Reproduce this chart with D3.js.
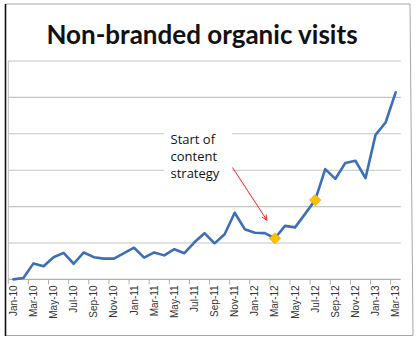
<!DOCTYPE html>
<html>
<head>
<meta charset="utf-8">
<script src="https://cdn.jsdelivr.net/npm/d3@7"></script>
<style>
  html, body { margin: 0; padding: 0; background: #fff; }
  svg { display: block; }
</style>
</head>
<body>
<svg id="chart" width="420" height="340"></svg>
<script>
// Monthly categories, Jan 2010 – Mar 2013
const months = [
  "Jan-10","Feb-10","Mar-10","Apr-10","May-10","Jun-10","Jul-10","Aug-10","Sep-10","Oct-10","Nov-10","Dec-10",
  "Jan-11","Feb-11","Mar-11","Apr-11","May-11","Jun-11","Jul-11","Aug-11","Sep-11","Oct-11","Nov-11","Dec-11",
  "Jan-12","Feb-12","Mar-12","Apr-12","May-12","Jun-12","Jul-12","Aug-12","Sep-12","Oct-12","Nov-12","Dec-12",
  "Jan-13","Feb-13","Mar-13"
];
// Non-branded organic visits (relative units)
const visits = [
  0.00, 0.04, 0.44, 0.36, 0.61, 0.73, 0.43, 0.74, 0.61, 0.57, 0.57, 0.72,
  0.87, 0.60, 0.74, 0.66, 0.83, 0.72, 1.02, 1.27, 0.99, 1.24, 1.83, 1.38,
  1.28, 1.27, 1.13, 1.47, 1.43, 1.80, 2.18, 3.03, 2.76, 3.20, 3.26, 2.78,
  3.97, 4.31, 5.14
];
// Months marked on the line
const highlighted = ["Mar-12", "Jul-12"];
// Axis labels shown every second month
const tickLabels = months.filter((m, i) => i % 2 === 0);
const gridValues = [1, 2, 3, 4, 5, 6];
const titleText = "Non-branded organic visits";
const noteLines = ["Start of", "content", "strategy"];
const noteMonth = "Mar-12";

const data = months.map((m, i) => ({ month: m, value: visits[i] }));

const svg = d3.select("#chart");

// outer frame
svg.append("line").attr("x1", 5.5).attr("y1", 4).attr("x2", 410).attr("y2", 4)
  .attr("stroke", "#a6a6a6").attr("stroke-width", 1);
svg.append("line").attr("x1", 410).attr("y1", 4).attr("x2", 413).attr("y2", 335.5)
  .attr("stroke", "#a6a6a6").attr("stroke-width", 1);
svg.append("line").attr("x1", 5.5).attr("y1", 335.5).attr("x2", 413).attr("y2", 335.5)
  .attr("stroke", "#a6a6a6").attr("stroke-width", 1);
svg.append("line").attr("x1", 5.5).attr("y1", 4).attr("x2", 5.5).attr("y2", 336)
  .attr("stroke", "#111").attr("stroke-width", 1.6);

// title
svg.append("text")
  .attr("x", 202).attr("y", 43.5)
  .attr("text-anchor", "middle")
  .attr("font-family", "Lato, 'Open Sans', sans-serif")
  .attr("font-weight", 700)
  .attr("font-size", 26)
  .attr("fill", "#111")
  .text(titleText);

const plotLeft = 8.3, plotRight = 400.7, plotTop = 61, plotBottom = 279.4;

const x = d3.scaleBand().domain(months).range([plotLeft, plotRight]).paddingInner(0).paddingOuter(0);
const y = d3.scaleLinear().domain([0, 6]).range([plotBottom, plotTop]);
const cx = m => x(m) + x.bandwidth() / 2;

// horizontal gridlines
svg.append("g").selectAll("line").data(gridValues).join("line")
  .attr("x1", plotLeft).attr("x2", plotRight)
  .attr("y1", d => y(d)).attr("y2", d => y(d))
  .attr("stroke", "#c4c4c4").attr("stroke-width", 1.1);

// vertical value-axis line
svg.append("line").attr("x1", plotLeft).attr("x2", plotLeft).attr("y1", plotTop).attr("y2", plotBottom)
  .attr("stroke", "#bdbdbd").attr("stroke-width", 1);

// category axis: ticks between categories every two months
const xAxis = svg.append("g").attr("transform", `translate(0,${plotBottom})`);
xAxis.append("line").attr("x1", plotLeft).attr("x2", plotRight).attr("y1", 0).attr("y2", 0)
  .attr("stroke", "#b0b0b0").attr("stroke-width", 1.1);
const tickPos = d3.range(0, months.length + 1, 2).map(i => plotLeft + i * x.bandwidth());
xAxis.selectAll("line.tick").data(tickPos).join("line").attr("class", "tick")
  .attr("x1", d => d).attr("x2", d => d).attr("y1", 0).attr("y2", 5)
  .attr("stroke", "#b0b0b0").attr("stroke-width", 1);
xAxis.selectAll("text").data(tickLabels).join("text")
  .attr("transform", d => `translate(${cx(d) + 3.5},6) rotate(-90)`)
  .attr("text-anchor", "end")
  .attr("font-family", "'Liberation Sans', Arial, sans-serif")
  .attr("font-size", 10)
  .attr("fill", "#333")
  .text(d => d);

// annotation background box and text
svg.append("rect").attr("x", 164).attr("y", 126).attr("width", 68).attr("height", 60)
  .attr("fill", "#fff");
const note = svg.append("text")
  .attr("font-family", "'Open Sans', Lato, sans-serif")
  .attr("font-size", 13)
  .attr("fill", "#111");
noteLines.forEach((t, i) => {
  note.append("tspan").attr("x", 170.5).attr("y", 144 + i * 17.2).text(t);
});

// data line
const line = d3.line().x(d => cx(d.month)).y(d => y(d.value));
svg.append("path").datum(data)
  .attr("d", line)
  .attr("fill", "none")
  .attr("stroke", "#3b6fb6")
  .attr("stroke-width", 2.6)
  .attr("stroke-linejoin", "round")
  .attr("stroke-linecap", "round");

// arrow pointing at the start of the content strategy
const target = data.find(d => d.month === noteMonth);
const tipX = cx(target.month) - 8, tipY = y(target.value) - 18;
const startX = 232.5, startY = 167.5;
svg.append("line").attr("x1", startX).attr("y1", startY).attr("x2", tipX).attr("y2", tipY)
  .attr("stroke", "#ff2020").attr("stroke-width", 1);
const ang = Math.atan2(tipY - startY, tipX - startX);
const headLen = 6, headSpread = 0.42;
svg.append("path")
  .attr("d", `M${tipX - headLen * Math.cos(ang - headSpread)},${tipY - headLen * Math.sin(ang - headSpread)}L${tipX},${tipY}L${tipX - headLen * Math.cos(ang + headSpread)},${tipY - headLen * Math.sin(ang + headSpread)}`)
  .attr("fill", "none").attr("stroke", "#ff2020").attr("stroke-width", 1);

// diamond markers
const diamond = d3.symbol().type(d3.symbolSquare).size(62);
svg.append("g").selectAll("path").data(data.filter(d => highlighted.includes(d.month))).join("path")
  .attr("d", diamond)
  .attr("transform", d => `translate(${cx(d.month)},${y(d.value)}) rotate(45)`)
  .attr("fill", "#ffc000")
  .attr("stroke", "#e8a900")
  .attr("stroke-width", 0.8);
</script>
</body>
</html>
